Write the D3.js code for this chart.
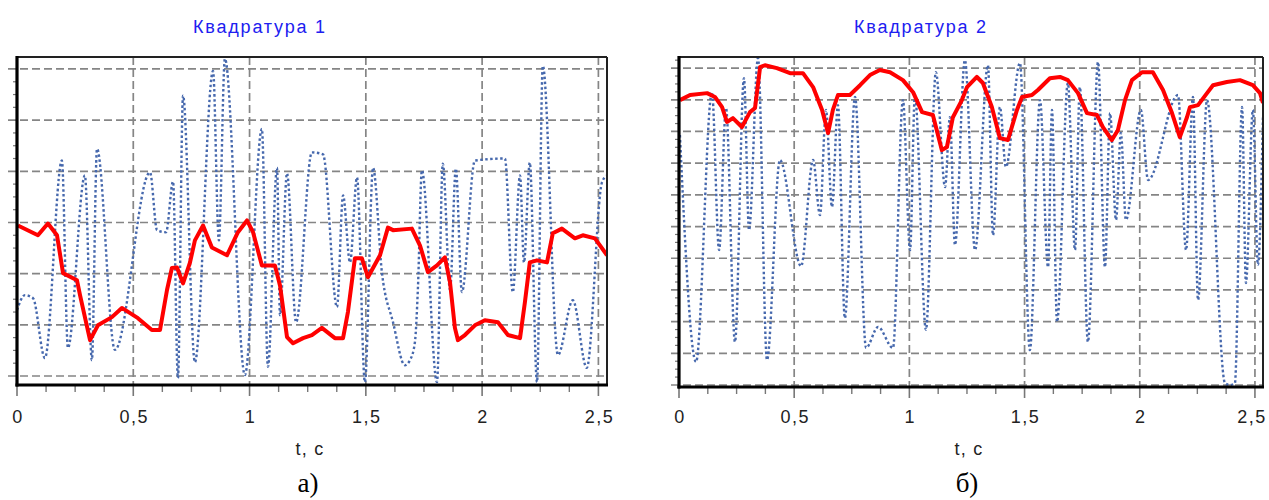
<!DOCTYPE html>
<html><head><meta charset="utf-8">
<script src="https://cdn.jsdelivr.net/npm/d3@7"></script>
<style>body{margin:0;background:#fff}svg{display:block}</style>
</head><body><svg id="c" width="1269" height="500"></svg>
<script>
const timeTicks = [0, 0.5, 1, 1.5, 2, 2.5];
const timeTickLabels = ["0", "0,5", "1", "1,5", "2", "2,5"];
const titles = ["Квадратура 1", "Квадратура 2"];
const panelLabels = ["а)", "б)"];
const axisLabel = "t, с";

// Panel a) — red envelope [t, value in grid units]
const q1Red = [[0.004,2.94],[0.09,2.75],[0.133,2.98],[0.172,2.75],[0.198,2.01],[0.258,1.87],[0.271,1.58],[0.314,0.70],[0.348,0.99],[0.408,1.15],[0.451,1.33],[0.52,1.13],[0.58,0.90],[0.615,0.90],[0.645,1.68],[0.666,2.11],[0.688,2.12],[0.714,1.81],[0.744,2.22],[0.765,2.65],[0.80,2.94],[0.838,2.51],[0.903,2.36],[0.95,2.81],[0.989,3.04],[1.015,2.81],[1.053,2.16],[1.109,2.16],[1.131,1.77],[1.161,0.76],[1.187,0.64],[1.23,0.74],[1.268,0.80],[1.311,0.94],[1.367,0.74],[1.402,0.74],[1.423,1.25],[1.453,2.30],[1.483,2.30],[1.509,1.93],[1.561,2.36],[1.595,2.90],[1.617,2.85],[1.698,2.88],[1.733,2.55],[1.767,2.03],[1.806,2.16],[1.84,2.32],[1.862,1.83],[1.883,0.94],[1.896,0.70],[1.926,0.80],[1.969,0.99],[2.012,1.09],[2.068,1.05],[2.111,0.80],[2.163,0.74],[2.184,1.44],[2.205,2.22],[2.236,2.26],[2.279,2.22],[2.304,2.79],[2.343,2.88],[2.399,2.69],[2.433,2.75],[2.485,2.69],[2.537,2.36]];

// Panel a) — blue signal (turning points)
const q1Blue = [[0,1.29],[0.034,1.58],[0.069,1.52],[0.12,0.35],[0.193,4.21],[0.219,0.55],[0.292,3.92],[0.322,0.31],[0.344,4.44],[0.421,0.51],[0.572,3.98],[0.602,2.85],[0.641,2.81],[0.671,3.80],[0.692,-0.04],[0.714,5.48],[0.765,0.27],[0.843,5.96],[0.868,2.65],[0.894,6.20],[0.98,0.02],[1.053,4.83],[1.079,0.18],[1.118,4.07],[1.131,1.19],[1.161,3.96],[1.2,1.05],[1.268,4.37],[1.316,4.33],[1.376,1.35],[1.402,3.53],[1.432,2.22],[1.462,3.88],[1.496,-0.12],[1.531,4.07],[1.569,2.03],[1.617,1.05],[1.668,0.21],[1.69,0.31],[1.711,0.66],[1.724,1.72],[1.741,4.02],[1.806,-0.12],[1.831,4.15],[1.862,1.68],[1.887,4.05],[1.913,1.64],[1.969,4.21],[2.098,4.25],[2.132,1.64],[2.163,3.92],[2.18,2.22],[2.205,4.17],[2.236,-0.12],[2.261,6.06],[2.326,0.41],[2.39,1.48],[2.45,0.16],[2.515,3.78],[2.537,3.92]];

// Panel б) — red envelope
const q2Red = [[0.004,8.99],[0.048,9.15],[0.122,9.21],[0.156,9.09],[0.187,8.77],[0.208,8.30],[0.234,8.42],[0.273,8.14],[0.308,8.61],[0.33,8.74],[0.352,10.03],[0.373,10.09],[0.425,10.0],[0.482,9.84],[0.538,9.84],[0.582,9.40],[0.621,8.68],[0.647,7.95],[0.668,8.68],[0.69,9.15],[0.742,9.15],[0.786,9.46],[0.829,9.78],[0.872,9.94],[0.916,9.87],[0.972,9.62],[1.016,9.24],[1.055,8.61],[1.102,8.52],[1.141,7.41],[1.163,7.51],[1.189,8.45],[1.228,8.99],[1.25,9.40],[1.293,9.72],[1.319,9.53],[1.358,8.77],[1.393,7.79],[1.428,7.73],[1.467,8.68],[1.489,9.09],[1.532,9.15],[1.558,9.31],[1.61,9.68],[1.654,9.72],[1.688,9.62],[1.732,9.21],[1.771,8.58],[1.814,8.52],[1.84,8.14],[1.879,7.73],[1.905,8.04],[1.936,8.99],[1.966,9.62],[2.01,9.87],[2.057,9.87],[2.101,9.31],[2.14,8.58],[2.174,7.82],[2.205,8.45],[2.218,8.77],[2.253,8.83],[2.292,9.21],[2.318,9.46],[2.378,9.56],[2.435,9.62],[2.491,9.46],[2.522,9.21],[2.535,8.90]];

// Panel б) — blue signal (turning points)
const q2Blue = [[0.004,7.89],[0.074,0.73],[0.143,9.24],[0.174,4.26],[0.204,8.74],[0.243,1.36],[0.282,9.68],[0.304,4.89],[0.343,10.32],[0.382,0.79],[0.438,7.10],[0.53,3.75],[0.582,7.10],[0.612,5.36],[0.638,8.68],[0.664,5.62],[0.69,8.83],[0.72,2.11],[0.764,9.09],[0.812,1.17],[0.864,1.83],[0.929,1.17],[0.972,8.99],[1.003,4.26],[1.024,9.15],[1.072,1.74],[1.115,9.87],[1.155,6.25],[1.176,8.45],[1.198,4.42],[1.241,10.25],[1.285,4.26],[1.341,10.09],[1.363,4.73],[1.393,8.77],[1.419,6.88],[1.48,10.16],[1.523,1.10],[1.567,8.99],[1.602,3.72],[1.619,8.68],[1.641,1.99],[1.688,9.53],[1.719,4.26],[1.74,9.40],[1.775,1.36],[1.819,10.19],[1.849,3.72],[1.871,8.58],[1.897,5.21],[1.918,7.95],[1.94,5.21],[2.005,8.68],[2.036,6.47],[2.166,9.15],[2.201,4.26],[2.231,9.09],[2.253,2.68],[2.292,8.99],[2.37,0.06],[2.392,0.0],[2.413,0.06],[2.444,8.77],[2.461,3.22],[2.491,8.68],[2.513,3.79],[2.535,8.52]];

const q1GridValues = [0, 1, 2, 3, 4, 5, 6];
const q2GridValues = [0, 1, 2, 3, 4, 5, 6, 7, 8, 9, 10];

const panels = [
  {title: titles[0], label: panelLabels[0], red: q1Red, blue: q1Blue, grid: q1GridValues,
   tMax: 2.537, vMin: -0.176, vMax: 6.234, left: 17, right: 607, top: 57, bottom: 385,
   titleX: 260, tickOut: 9},
  {title: titles[1], label: panelLabels[1], red: q2Red, blue: q2Blue, grid: q2GridValues,
   tMax: 2.535, vMin: -0.063, vMax: 10.35, left: 679, right: 1263, top: 57, bottom: 387,
   titleX: 921, tickOut: 8}
];

const svg = d3.select("#c");
svg.append("rect").attr("width", 1269).attr("height", 500).attr("fill", "#fff");

panels.forEach((p, i) => {
  const g = svg.append("g");
  const x = d3.scaleLinear().domain([0, p.tMax]).range([p.left, p.right]);
  const y = d3.scaleLinear().domain([p.vMin, p.vMax]).range([p.bottom, p.top]);
  const gridCol = "#858585";

  g.selectAll(".hg").data(p.grid).join("line")
    .attr("x1", p.left - p.tickOut).attr("x2", p.right)
    .attr("y1", d => y(d)).attr("y2", d => y(d))
    .attr("stroke", gridCol).attr("stroke-width", 1.7).attr("stroke-dasharray", "8 4");
  const minorV = d3.range(p.grid[0], p.vMax, 0.25).filter(v => Math.abs(v - Math.round(v)) > 1e-6);
  g.selectAll(".my").data(minorV).join("line")
    .attr("x1", p.left - 4).attr("x2", p.left)
    .attr("y1", d => y(d)).attr("y2", d => y(d))
    .attr("stroke", "#777").attr("stroke-width", 1.2);
  g.selectAll(".vg").data(timeTicks).join("line")
    .attr("x1", d => x(d)).attr("x2", d => x(d))
    .attr("y1", p.top).attr("y2", p.bottom)
    .attr("stroke", gridCol).attr("stroke-width", 1.7).attr("stroke-dasharray", "8 4");
  g.selectAll(".mx").data(timeTicks).join("line")
    .attr("x1", d => x(d)).attr("x2", d => x(d))
    .attr("y1", p.bottom).attr("y2", p.bottom + 11)
    .attr("stroke", "#777").attr("stroke-width", 1.6);
  const minorT = d3.range(0.125, p.tMax, 0.125).filter(t => Math.abs(t * 2 - Math.round(t * 2)) > 1e-6);
  g.selectAll(".nx").data(minorT).join("line")
    .attr("x1", d => x(d)).attr("x2", d => x(d))
    .attr("y1", p.bottom).attr("y2", p.bottom + 7)
    .attr("stroke", "#777").attr("stroke-width", 1.4);

  const cid = "clip" + i;
  svg.append("clipPath").attr("id", cid).append("rect")
    .attr("x", p.left).attr("y", p.top).attr("width", p.right - p.left).attr("height", p.bottom - p.top);

  const blueLine = d3.line().x(d => x(d[0])).y(d => y(d[1])).curve(d3.curveMonotoneX);
  g.append("path").attr("d", blueLine(p.blue)).attr("clip-path", `url(#${cid})`)
    .attr("fill", "none").attr("stroke", "#4668ad").attr("stroke-width", 2.4)
    .attr("stroke-dasharray", "2.5 2.5");

  const redLine = d3.line().x(d => x(d[0])).y(d => y(d[1]));
  g.append("path").attr("d", redLine(p.red)).attr("clip-path", `url(#${cid})`)
    .attr("fill", "none").attr("stroke", "#ff0000").attr("stroke-width", 4)
    .attr("stroke-linejoin", "round");

  g.append("line").attr("x1", p.left).attr("x2", p.right).attr("y1", p.top).attr("y2", p.top)
    .attr("stroke", "#222").attr("stroke-width", 2);
  g.append("line").attr("x1", p.right).attr("x2", p.right).attr("y1", p.top).attr("y2", p.bottom)
    .attr("stroke", "#222").attr("stroke-width", 2);
  g.append("line").attr("x1", p.left).attr("x2", p.left).attr("y1", p.top - 1).attr("y2", p.bottom + 1.5)
    .attr("stroke", "#000").attr("stroke-width", 3.2);
  g.append("line").attr("x1", p.left - 1.5).attr("x2", p.right + 1).attr("y1", p.bottom).attr("y2", p.bottom)
    .attr("stroke", "#000").attr("stroke-width", 3.2);

  g.selectAll(".tl").data(timeTicks).join("text")
    .attr("x", d => Math.min(x(d) + 1, 1252))
    .attr("y", 423)
    .attr("text-anchor", "middle")
    .attr("font-family", "Arial, 'Liberation Sans', sans-serif").attr("font-size", 18)
    .attr("letter-spacing", 1.5).attr("fill", "#222")
    .text((d, k) => timeTickLabels[k]);

  g.append("text").attr("x", p.titleX).attr("y", 33).attr("text-anchor", "middle")
    .attr("font-family", "Arial, 'Liberation Sans', sans-serif").attr("font-size", 18)
    .attr("letter-spacing", 1.8).attr("fill", "#2020f0").text(p.title);

  const cx = (p.left + p.right) / 2;
  g.append("text").attr("x", cx - 2).attr("y", 455).attr("text-anchor", "middle")
    .attr("font-family", "Arial, 'Liberation Sans', sans-serif").attr("font-size", 18)
    .attr("letter-spacing", 1.2).attr("fill", "#222").text(axisLabel);

  g.append("text").attr("x", cx - 4).attr("y", 492).attr("text-anchor", "middle")
    .attr("font-family", "'Liberation Serif', 'Times New Roman', serif").attr("font-size", 27)
    .attr("fill", "#000").text(p.label);
});
</script>
</body></html>
